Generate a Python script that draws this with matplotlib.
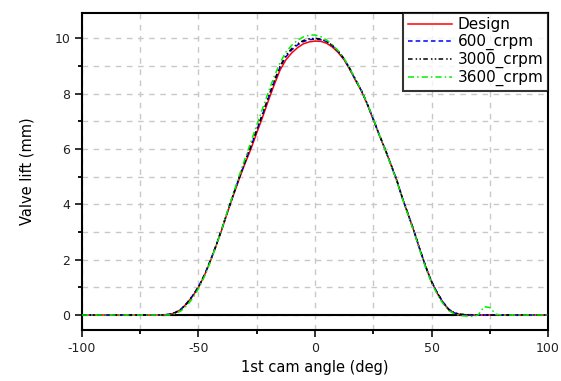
import numpy as np
import matplotlib
matplotlib.use("Agg")
import matplotlib.pyplot as plt
from matplotlib.ticker import MultipleLocator

plt.rcParams['font.family'] = ['DejaVu Sans']
plt.rcParams['axes.unicode_minus'] = False

# sampling angles (deg): -100, then -70..80 every 2.5, then 100
angle = np.concatenate([[-100], np.arange(-70, 80.1, 2.5), [100]])

design = [0,
          0, 0, 0, 0.02, 0.08, 0.2, 0.42, 0.68, 1.0, 1.42, 1.92, 2.48, 3.08, 3.72, 4.33, 4.92, 5.48,
          6.0, 6.58, 7.15, 7.75, 8.32, 8.85, 9.22, 9.47, 9.66, 9.8, 9.87, 9.9,
          9.89, 9.82, 9.68, 9.48, 9.22, 8.86, 8.46, 8.08, 7.6, 7.06, 6.52, 6.0, 5.45, 4.88, 4.22,
          3.62, 3.02, 2.36, 1.74, 1.2, 0.78, 0.44, 0.18, 0.06, 0.01, 0, 0, 0, 0, 0, 0, 0,
          0]
rpm600 = [0,
          0, 0, 0, 0.03, 0.09, 0.21, 0.43, 0.7, 1.02, 1.44, 1.95, 2.5, 3.1, 3.74, 4.36, 4.96, 5.53,
          6.08, 6.66, 7.24, 7.84, 8.42, 8.95, 9.33, 9.58, 9.76, 9.88, 9.95, 9.97,
          9.95, 9.88, 9.73, 9.52, 9.25, 8.88, 8.48, 8.09, 7.61, 7.07, 6.53, 6.0, 5.45, 4.89, 4.22,
          3.63, 3.03, 2.37, 1.75, 1.21, 0.8, 0.46, 0.2, 0.07, 0.02, 0, 0, 0, 0, 0, 0, 0,
          0]
rpm3000 = [0,
           0, 0, 0, 0.02, 0.08, 0.2, 0.41, 0.69, 1.01, 1.43, 1.94, 2.5, 3.11, 3.75, 4.37, 4.98, 5.56,
           6.12, 6.7, 7.28, 7.88, 8.46, 8.99, 9.38, 9.63, 9.8, 9.92, 9.98, 10.0,
           9.97, 9.89, 9.74, 9.53, 9.26, 8.9, 8.5, 8.1, 7.62, 7.08, 6.54, 6.01, 5.46, 4.9, 4.23,
           3.64, 3.03, 2.37, 1.75, 1.21, 0.79, 0.45, 0.19, 0.07, 0.03, 0.01, 0, 0, 0, 0, 0, 0,
           0]
rpm3600 = [0,
           0, 0, 0, 0.0, 0.05, 0.15, 0.34, 0.6, 0.95, 1.38, 1.9, 2.48, 3.1, 3.76, 4.4, 5.04, 5.65,
           6.25, 6.86, 7.46, 8.06, 8.62, 9.12, 9.5, 9.75, 9.93, 10.05, 10.11, 10.12,
           10.06, 9.94, 9.76, 9.55, 9.27, 8.9, 8.5, 8.1, 7.62, 7.08, 6.53, 5.99, 5.43, 4.86, 4.2,
           3.6, 2.99, 2.33, 1.7, 1.16, 0.74, 0.4, 0.15, 0.03, -0.02, -0.04, -0.05, 0.0, 0.3, 0.27,
           0.03, 0,
           0]

labels = ["Design", "600_crpm", "3000_crpm", "3600_crpm"]
baseline_range = [-65, 67.5]

fig = plt.figure(figsize=(5.61, 3.81), dpi=100)
ax = fig.add_axes([0.146, 0.134, 0.831, 0.833])

ax.grid(True, which="both", color="#c8c8c8", linestyle=(0, (4, 4)), linewidth=1.0)
ax.set_axisbelow(True)

ax.hlines(0, baseline_range[0], baseline_range[1], color="black", linewidth=1.5, zorder=2)

ax.plot(angle, design, color="red", linestyle="-", linewidth=1.1, label=labels[0], zorder=3)
ax.plot(angle, rpm600, color="blue", linestyle=(0, (3, 2)), linewidth=1.1, label=labels[1], zorder=3)
ax.plot(angle, rpm3000, color="black", linestyle=(0, (3, 2, 1, 1.5, 1, 1.5)), linewidth=1.1,
        label=labels[2], zorder=3)
ax.plot(angle, rpm3600, color="#00ee00", linestyle=(0, (4, 2, 1, 2)), linewidth=1.1,
        label=labels[3], zorder=3)

ax.set_xlim(-100, 100)
ax.set_ylim(-0.54, 10.93)
ax.xaxis.set_major_locator(MultipleLocator(50))
ax.xaxis.set_minor_locator(MultipleLocator(25))
ax.yaxis.set_major_locator(MultipleLocator(2))
ax.yaxis.set_minor_locator(MultipleLocator(1))
ax.tick_params(which="major", direction="out", length=5, width=1.3, labelsize=9, colors="#222222")
ax.tick_params(which="minor", direction="out", length=3, width=1.3)
for s in ax.spines.values():
    s.set_linewidth(1.5)

ax.set_xlabel("1st cam angle (deg)", fontsize=10.5, labelpad=4)
ax.set_ylabel("Valve lift (mm)", fontsize=10.5, labelpad=14)

leg = ax.legend(loc="upper right", fontsize=11, frameon=True, fancybox=False, borderaxespad=0,
                handlelength=2.9, handletextpad=0.35, labelspacing=0.12, borderpad=0.3)
leg.get_frame().set_edgecolor("black")
leg.get_frame().set_linewidth(1.5)

fig.savefig("out.png", dpi=100)
